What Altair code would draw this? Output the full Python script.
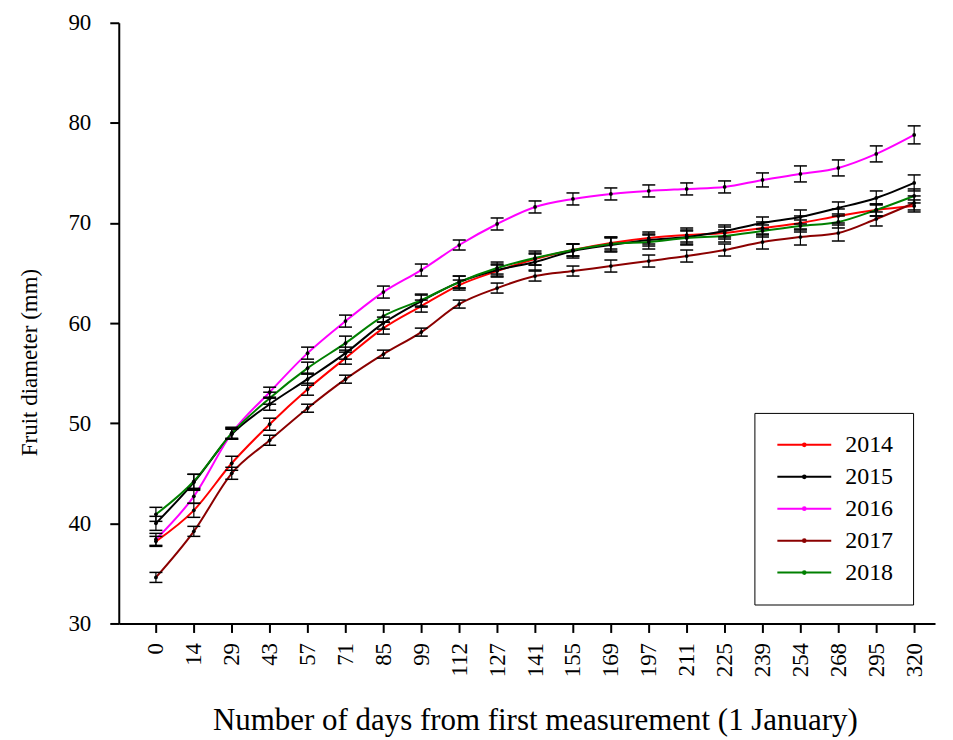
import json
import altair as alt
import pandas as pd

days = ["0", "14", "29", "43", "57", "71", "85", "99", "112", "127", "141",
        "155", "169", "197", "211", "225", "239", "254", "268", "295", "320"]
years = ["2014", "2015", "2016", "2017", "2018"]
colors = ["#ff0000", "#000000", "#ff00ff", "#8b0000", "#008000"]

y2014 = [38.2, 41.3, 46.0, 49.9, 53.4, 56.5, 59.5, 61.7, 63.8, 65.2, 66.4,
         67.3, 68.0, 68.5, 68.8, 69.0, 69.5, 70.0, 70.7, 71.3, 71.7]
y2015 = [40.0, 44.1, 48.9, 51.9, 54.4, 57.0, 60.0, 62.2, 64.1, 65.3, 66.1,
         67.2, 67.8, 68.3, 68.6, 69.2, 70.0, 70.6, 71.5, 72.5, 74.0]
y2016 = [38.4, 42.7, 49.0, 53.1, 57.0, 60.2, 63.1, 65.3, 67.8, 69.9, 71.6,
         72.4, 72.9, 73.2, 73.4, 73.6, 74.3, 74.9, 75.5, 76.9, 78.8]
y2017 = [34.6, 39.2, 45.0, 48.3, 51.5, 54.4, 56.9, 59.1, 61.9, 63.5, 64.7,
         65.2, 65.7, 66.2, 66.7, 67.3, 68.1, 68.6, 69.0, 70.4, 72.0]
y2018 = [40.9, 44.2, 49.0, 52.5, 55.5, 58.0, 60.7, 62.3, 64.1, 65.5, 66.5,
         67.3, 67.9, 68.1, 68.5, 68.7, 69.2, 69.7, 70.1, 71.3, 72.7]

e2014 = [0.5, 0.7, 0.7, 0.6, 0.6, 0.6, 0.6, 0.6, 0.5, 0.6, 0.6,
         0.6, 0.6, 0.6, 0.7, 0.6, 0.6, 0.7, 0.7, 0.6, 0.6]
e2015 = [0.7, 0.8, 0.5, 0.6, 0.6, 0.6, 0.6, 0.6, 0.6, 0.6, 0.8,
         0.7, 0.7, 0.6, 0.7, 0.6, 0.6, 0.7, 0.6, 0.7, 0.8]
e2016 = [0.6, 0.7, 0.5, 0.5, 0.6, 0.6, 0.6, 0.6, 0.5, 0.6, 0.6,
         0.6, 0.6, 0.6, 0.6, 0.6, 0.7, 0.8, 0.8, 0.8, 0.9]
e2017 = [0.5, 0.5, 0.6, 0.5, 0.4, 0.4, 0.4, 0.4, 0.4, 0.5, 0.5,
         0.5, 0.6, 0.6, 0.6, 0.6, 0.7, 0.8, 0.8, 0.7, 0.7]
e2018 = [0.7, 0.7, 0.6, 0.6, 0.6, 0.7, 0.6, 0.6, 0.6, 0.6, 0.7,
         0.6, 0.7, 0.7, 0.7, 0.6, 0.6, 0.6, 0.6, 0.6, 0.7]

series = {"2014": (y2014, e2014), "2015": (y2015, e2015), "2016": (y2016, e2016),
          "2017": (y2017, e2017), "2018": (y2018, e2018)}

rows = []
for yr in years:
    vals, errs = series[yr]
    for i, (v, e) in enumerate(zip(vals, errs)):
        rows.append({"idx": i, "day": days[i], "year": yr, "value": v,
                     "lo": v - e, "hi": v + e})
df = pd.DataFrame(rows)

FONT = "Liberation Serif"
label_expr = json.dumps(days) + "[datum.value]"

x_enc = alt.X(
    "idx:Q",
    scale=alt.Scale(domain=[-0.98, 20.55], nice=False, zero=False),
    axis=alt.Axis(
        values=list(range(len(days))), labelExpr=label_expr, labelAngle=-90,
        grid=False, title="Number of days from first measurement (1 January)",
        titleX=417, titleY=106, titleAlign="center", titleBaseline="alphabetic",
        labelPadding=10, tickSize=9, labelFontSize=23, titleFontSize=31,
    ),
)
y_scale = alt.Scale(domain=[30, 90], nice=False, zero=False)
y_enc = alt.Y(
    "value:Q", scale=y_scale,
    axis=alt.Axis(
        values=[30, 40, 50, 60, 70, 80, 90], grid=False,
        title="Fruit diameter (mm)", titleAngle=-90, titleX=-89, titleY=340,
        titleAlign="center", titleBaseline="middle",
        labelPadding=19, tickSize=9, labelFontSize=23, titleFontSize=23,
    ),
)

base = alt.Chart(df)

lines = base.mark_line(interpolate="monotone", strokeWidth=2).encode(
    x=x_enc, y=y_enc,
    color=alt.Color(
        "year:N", sort=years,
        scale=alt.Scale(domain=years, range=colors),
        legend=alt.Legend(
            title=None, orient="none", legendX=637, legendY=391,
            symbolType="M-1,0H5M2.15,0A0.15,0.15,0,1,1,1.85,0A0.15,0.15,0,1,1,2.15,0",
            symbolSize=324, symbolStrokeWidth=2, labelFont=FONT,
            labelFontSize=24, labelColor="black", labelOffset=47,
            rowPadding=8, padding=20, strokeColor="black", fillColor="white",
        ),
    ),
)

err_rule = base.mark_rule(color="black", strokeWidth=1.2).encode(
    x="idx:Q", y=alt.Y("lo:Q", scale=y_scale), y2="hi:Q", detail="year:N")
cap_lo = base.mark_tick(color="black", orient="horizontal", size=13,
                        thickness=1.5, opacity=1).encode(
    x="idx:Q", y=alt.Y("lo:Q", scale=y_scale), detail="year:N")
cap_hi = base.mark_tick(color="black", orient="horizontal", size=13,
                        thickness=1.5, opacity=1).encode(
    x="idx:Q", y=alt.Y("hi:Q", scale=y_scale), detail="year:N")
points = base.mark_point(filled=True, color="black", size=14, opacity=1).encode(
    x="idx:Q", y=alt.Y("value:Q", scale=y_scale), detail="year:N")

chart = alt.layer(lines, err_rule, cap_lo, cap_hi, points).properties(
    width=818, height=602,
    autosize=alt.AutoSizeParams(type="none"),
    padding={"left": 111, "top": 14, "right": 10, "bottom": 116},
).configure_view(stroke=None).configure_axis(
    domainColor="black", domainWidth=2, tickColor="black", tickWidth=2,
    labelColor="black", titleColor="black", labelFont=FONT, titleFont=FONT,
    titleFontWeight="normal",
)

chart.save("out.html", embed_options={"renderer": "svg", "actions": False})
